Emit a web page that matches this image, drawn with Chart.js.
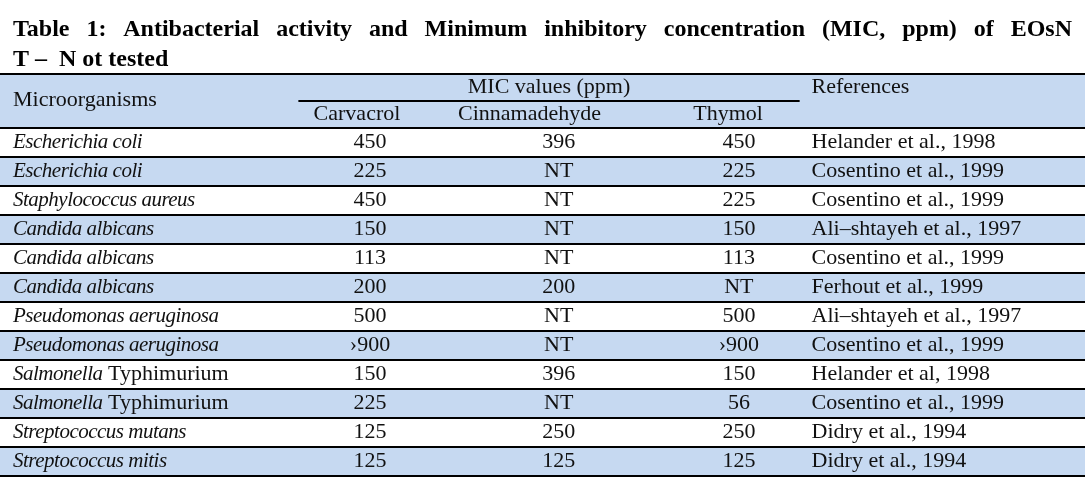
<!DOCTYPE html>
<html>
<head>
<meta charset="utf-8">
<script src="https://cdn.jsdelivr.net/npm/chart.js@4.4.1/dist/chart.umd.min.js"></script>
<style>
  body { margin: 0; background: #fff; }
  #wrap { width: 1087px; height: 487px; }
</style>
</head>
<body>
<div id="wrap"><canvas id="myChart" width="1087" height="487"></canvas></div>
<script>
// table data
var titleLine1 = 'Table 1: Antibacterial activity and Minimum inhibitory concentration (MIC, ppm) of EOsN';
var titleLine2 = 'T –  N ot tested';

var groupHeader = 'MIC values (ppm)';
var compounds = ['Carvacrol', 'Cinnamadehyde', 'Thymol'];

var orgItalic = ['Escherichia coli', 'Escherichia coli', 'Staphylococcus aureus', 'Candida albicans',
    'Candida albicans', 'Candida albicans', 'Pseudomonas aeruginosa', 'Pseudomonas aeruginosa',
    'Salmonella', 'Salmonella', 'Streptococcus mutans', 'Streptococcus mitis'];
var orgRoman = ['', '', '', '', '', '', '', '', ' Typhimurium', ' Typhimurium', '', ''];

var carvacrol = ['450', '225', '450', '150', '113', '200', '500', '›900', '150', '225', '125', '125'];
var cinnamaldehyde = ['396', 'NT', 'NT', 'NT', 'NT', '200', 'NT', 'NT', '396', 'NT', '250', '125'];
var thymol = ['450', '225', '225', '150', '113', 'NT', '500', '›900', '150', '56', '250', '125'];
var references = ['Helander et al., 1998', 'Cosentino et al., 1999', 'Cosentino et al., 1999',
    'Ali–shtayeh et al., 1997', 'Cosentino et al., 1999', 'Ferhout et al., 1999',
    'Ali–shtayeh et al., 1997', 'Cosentino et al., 1999', 'Helander et al, 1998',
    'Cosentino et al., 1999', 'Didry et al., 1994', 'Didry et al., 1994'];

// layout (x in percent of table width)
var colOrg = 1.2, colRef = 74.8;
var colValues = [34.1, 51.5, 68.1];
var colHeads = [32.9, 48.8, 67.1];
var micSpan = [27.5, 73.7];
var headerRows = 1.86;
var blue = '#c6d9f1';
var serif = '"Liberation Serif", "Times New Roman", serif';
var romanFont = '22px ' + serif;
var italicFont = 'italic 21px ' + serif;

var tablePlugin = {
    id: 'tableText',
    beforeDraw: function (chart) {
        var c = chart.ctx, a = chart.chartArea;
        var xs = chart.scales.x, ys = chart.scales.y;
        var rowH = ys.getPixelForValue(1) - ys.getPixelForValue(0);
        var hTop = Math.round(a.top - rowH * headerRows);
        c.save();
        // title, first line justified
        c.fillStyle = '#000';
        c.font = 'bold 24px ' + serif;
        c.textBaseline = 'alphabetic';
        var words = titleLine1.split(' ');
        var total = 0;
        words.forEach(function (w) { total += c.measureText(w).width; });
        var x0 = xs.getPixelForValue(colOrg), x1 = a.right - 13;
        var gap = (x1 - x0 - total) / (words.length - 1);
        var x = x0;
        words.forEach(function (w) { c.fillText(w, x, 36); x += c.measureText(w).width + gap; });
        c.fillText(titleLine2, x0, 66);
        // header band
        c.fillStyle = blue;
        c.fillRect(a.left, hTop, a.right - a.left, a.top - hTop);
        c.strokeStyle = '#000';
        c.lineWidth = 2;
        c.beginPath();
        c.moveTo(a.left, hTop); c.lineTo(a.right, hTop);
        var mid = Math.round((hTop + a.top) / 2);
        c.moveTo(xs.getPixelForValue(micSpan[0]), mid); c.lineTo(xs.getPixelForValue(micSpan[1]), mid);
        c.stroke();
        c.fillStyle = '#111';
        c.font = romanFont;
        c.textBaseline = 'middle';
        c.textAlign = 'left';
        c.fillText('Microorganisms', xs.getPixelForValue(colOrg), mid - 1);
        c.fillText('References', xs.getPixelForValue(colRef), (hTop + mid) / 2);
        c.textAlign = 'center';
        c.fillText(groupHeader, (xs.getPixelForValue(micSpan[0]) + xs.getPixelForValue(micSpan[1])) / 2, (hTop + mid) / 2);
        compounds.forEach(function (name, i) {
            c.fillText(name, xs.getPixelForValue(colHeads[i]), (mid + a.top) / 2);
        });
        c.restore();
    },
    afterDatasetsDraw: function (chart) {
        var c = chart.ctx;
        var xs = chart.scales.x, ys = chart.scales.y;
        var cols = [carvacrol, cinnamaldehyde, thymol];
        c.save();
        c.fillStyle = '#111';
        c.textBaseline = 'middle';
        orgItalic.forEach(function (name, i) {
            var y = ys.getPixelForValue(i);
            var x = xs.getPixelForValue(colOrg);
            c.textAlign = 'left';
            c.font = italicFont;
            c.letterSpacing = '-0.5px';
            c.fillText(name, x, y);
            var w = c.measureText(name).width;
            c.letterSpacing = '0px';
            c.font = romanFont;
            if (orgRoman[i]) {
                c.fillText(orgRoman[i], x + w, y);
            }
            c.textAlign = 'center';
            cols.forEach(function (arr, j) {
                c.fillText(arr[i], xs.getPixelForValue(colValues[j]), y);
            });
            c.textAlign = 'left';
            c.fillText(references[i], xs.getPixelForValue(colRef), y);
        });
        c.restore();
    }
};

var ctx = document.getElementById('myChart').getContext('2d');
var myTable = new Chart(ctx, {
    type: 'bar',
    data: {
        labels: orgItalic.map(function (n, i) { return n + orgRoman[i]; }),
        datasets: [{
            label: 'rows',
            data: orgItalic.map(function (n, i) { return i % 2 ? [0, 100] : null; }),
            backgroundColor: blue,
            borderWidth: 0,
            inflateAmount: 0,
            barPercentage: 1,
            categoryPercentage: 1
        }]
    },
    options: {
        indexAxis: 'y',
        responsive: false,
        animation: false,
        layout: { padding: { top: 128, bottom: 11, left: 0, right: 2 } },
        plugins: { legend: { display: false }, tooltip: { enabled: false }, title: { display: false } },
        scales: {
            x: { type: 'linear', min: 0, max: 100, display: false },
            y: {
                ticks: { display: false },
                border: { display: false },
                grid: { offset: true, color: '#000', lineWidth: 2, drawTicks: false, z: 1 }
            }
        }
    },
    plugins: [tablePlugin]
});
</script>
</body>
</html>
